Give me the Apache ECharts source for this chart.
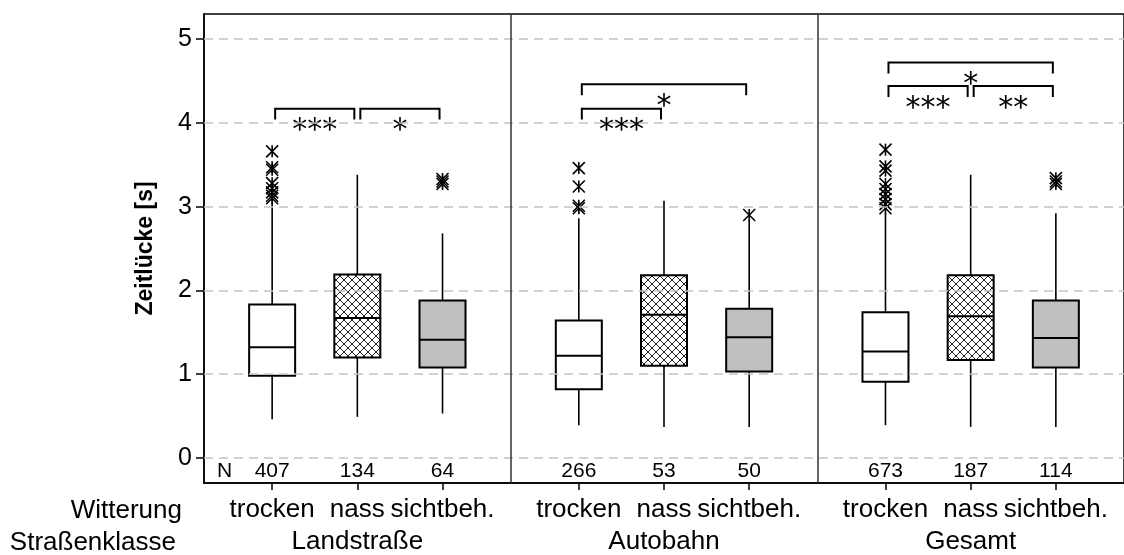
<!DOCTYPE html>
<html>
<head>
<meta charset="utf-8">
<script src="https://cdn.jsdelivr.net/npm/echarts@6/dist/echarts.min.js"></script>
<style>html,body{margin:0;padding:0;background:#fff;overflow:hidden}#c{width:1124px;height:555px}</style>
</head>
<body>
<div id="c"></div>
<script>
// ---- data ----
const positions = [0.8, 1.8, 2.8, 4.4, 5.4, 6.4, 8.0, 9.0, 10.0];
const witterung = ['trocken', 'nass', 'sichtbeh.', 'trocken', 'nass', 'sichtbeh.', 'trocken', 'nass', 'sichtbeh.'];
const strassenklasse = ['Landstraße', 'Autobahn', 'Gesamt'];
const groupCenters = [1.8, 5.4, 9.0];
const dividers = [3.6, 7.2];
const nCounts = [407, 134, 64, 266, 53, 50, 673, 187, 114];
const whiskerLow = [0.46, 0.49, 0.53, 0.39, 0.37, 0.37, 0.39, 0.37, 0.37];
const q1 = [0.98, 1.20, 1.08, 0.82, 1.10, 1.03, 0.91, 1.17, 1.08];
const median = [1.32, 1.67, 1.41, 1.22, 1.71, 1.44, 1.27, 1.69, 1.43];
const q3 = [1.83, 2.19, 1.88, 1.64, 2.18, 1.78, 1.74, 2.18, 1.88];
const whiskerHigh = [3.05, 3.38, 2.68, 2.86, 3.07, 2.84, 2.92, 3.38, 2.92];
const outliers = [
  [3.66, 3.47, 3.44, 3.28, 3.22, 3.17, 3.13, 3.10],
  [],
  [3.33, 3.30, 3.27],
  [3.46, 3.24, 3.01, 2.98],
  [],
  [2.90],
  [3.68, 3.48, 3.43, 3.27, 3.21, 3.15, 3.09, 3.03, 2.98],
  [],
  [3.34, 3.30, 3.27]
];
const yTicks = [0, 1, 2, 3, 4, 5];
// significance: [category A, category B, bracket level (s)]
const sigPairs = [[0, 1, 4.17], [1, 2, 4.17], [3, 4, 4.17], [3, 5, 4.46], [6, 7, 4.44], [7, 8, 4.44], [6, 8, 4.72]];
const sigLabels = ['***', '*', '***', '*', '***', '**', '*'];

// ---- build ----
const FONT = 'Liberation Sans, Arial, sans-serif';
const STARFONT = 'DejaVu Sans, sans-serif';
const hatch = document.createElement('canvas');
hatch.width = 8; hatch.height = 8;
(function () {
  const g = hatch.getContext('2d');
  g.fillStyle = '#fff'; g.fillRect(0, 0, 8, 8);
  g.strokeStyle = '#222'; g.lineWidth = 1;
  g.beginPath();
  g.moveTo(0, 0); g.lineTo(8, 8);
  g.moveTo(8, 0); g.lineTo(0, 8);
  g.stroke();
})();
const fills = ['#ffffff', { image: hatch, repeat: 'repeat' }, '#c0c0c0'];

const boxData = positions.map((p, i) => [p, whiskerLow[i], q1[i], median[i], q3[i], whiskerHigh[i], i]);
const outlierData = [];
outliers.forEach((arr, i) => arr.forEach(v => outlierData.push([positions[i], v])));
const nData = positions.map((p, i) => [p, i]);
const sigData = sigPairs.map((s, i) => [positions[s[0]], positions[s[1]], s[2], i]);

function labelFor(list, vals) {
  return function (v) {
    for (let i = 0; i < vals.length; i++) if (Math.abs(vals[i] - v) < 1e-6) return list[i];
    return '';
  };
}

const chart = echarts.init(document.getElementById('c'), null, { renderer: 'canvas' });
const option = {
  animation: false,
  backgroundColor: '#fff',
  grid: { left: 204, top: 14, width: 923, height: 470, show: true, borderColor: '#000', borderWidth: 1.5, backgroundColor: 'transparent' },
  xAxis: [{
    type: 'value', min: 0, max: 10.8, position: 'bottom',
    axisLine: { show: true, onZero: false, lineStyle: { color: '#000', width: 1.5 } },
    axisTick: { show: true, customValues: positions, length: 7, lineStyle: { color: '#000', width: 1.5 } },
    axisLabel: { customValues: positions, formatter: labelFor(witterung, positions), fontSize: 26, fontFamily: FONT, color: '#000', margin: 14 },
    splitLine: { show: false }
  }, {
    type: 'value', min: 0, max: 10.8, position: 'bottom', offset: 32,
    axisLine: { show: false }, axisTick: { show: false },
    axisLabel: { customValues: groupCenters, formatter: labelFor(strassenklasse, groupCenters), fontSize: 26, fontFamily: FONT, color: '#000', margin: 14 },
    splitLine: { show: false }
  }],
  yAxis: {
    type: 'value', min: -0.3, max: 5.3,
    name: 'Zeitlücke [s]', nameLocation: 'middle', nameGap: 47,
    nameTextStyle: { fontSize: 23, fontWeight: 'bold', fontFamily: FONT, color: '#000' },
    axisLine: { show: true, onZero: false, lineStyle: { color: '#000', width: 1.5 } },
    axisTick: { show: true, customValues: yTicks, length: 8, lineStyle: { color: '#000', width: 1.5 } },
    axisLabel: { customValues: yTicks, fontSize: 25, fontFamily: FONT, color: '#000', margin: 12 },
    splitLine: { show: false }
  },
  graphic: [
    { type: 'text', right: 1124 - 182, top: 498, style: { text: 'Witterung', font: '26px ' + FONT, fill: '#000' } },
    { type: 'text', right: 1124 - 176, top: 530, style: { text: 'Straßenklasse', font: '26px ' + FONT, fill: '#000' } },
    { type: 'text', left: 217, top: 461, style: { text: 'N', font: '21px ' + FONT, fill: '#000' } }
  ],
  series: [{
    type: 'line', data: [], z: 1, silent: true,
    markLine: {
      silent: true, symbol: 'none', label: { show: false },
      data: yTicks.map(v => ({ yAxis: v, lineStyle: { color: '#c4c4c4', type: [9, 6], width: 1.5 } }))
        .concat(dividers.map(v => ({ xAxis: v, lineStyle: { color: '#333', type: 'solid', width: 1.5 } })))
    }
  }, {
    type: 'custom', z: 3, data: boxData, clip: false,
    renderItem: function (params, api) {
      const x = api.value(0);
      const pLow = api.coord([x, api.value(1)]);
      const pQ1 = api.coord([x, api.value(2)]);
      const pMed = api.coord([x, api.value(3)]);
      const pQ3 = api.coord([x, api.value(4)]);
      const pHigh = api.coord([x, api.value(5)]);
      const w = api.size([0.54, 0])[0];
      const idx = api.value(6);
      const ls = { stroke: '#000', lineWidth: 1.6 };
      return {
        type: 'group', children: [
          { type: 'line', shape: { x1: pLow[0], y1: pLow[1], x2: pQ1[0], y2: pQ1[1] }, style: ls },
          { type: 'line', shape: { x1: pQ3[0], y1: pQ3[1], x2: pHigh[0], y2: pHigh[1] }, style: ls },
          { type: 'rect', shape: { x: pQ3[0] - w / 2, y: pQ3[1], width: w, height: pQ1[1] - pQ3[1] }, style: { fill: fills[idx % 3], stroke: '#000', lineWidth: 2 } },
          { type: 'line', shape: { x1: pMed[0] - w / 2, y1: pMed[1], x2: pMed[0] + w / 2, y2: pMed[1] }, style: { stroke: '#000', lineWidth: 2 } }
        ]
      };
    }
  }, {
    type: 'custom', z: 4, data: outlierData, clip: false,
    renderItem: function (params, api) {
      const p = api.coord([api.value(0), api.value(1)]);
      const r = 6;
      const st = { stroke: '#000', lineWidth: 1.6 };
      return {
        type: 'group', children: [
          { type: 'line', shape: { x1: p[0], y1: p[1] - r, x2: p[0], y2: p[1] + r }, style: st },
          { type: 'line', shape: { x1: p[0] - r, y1: p[1] - r, x2: p[0] + r, y2: p[1] + r }, style: st },
          { type: 'line', shape: { x1: p[0] - r, y1: p[1] + r, x2: p[0] + r, y2: p[1] - r }, style: st }
        ]
      };
    }
  }, {
    type: 'custom', z: 4, data: nData, clip: false,
    renderItem: function (params, api) {
      const p = api.coord([api.value(0), -0.3]);
      return { type: 'text', x: p[0], y: p[1] - 12, style: { text: String(nCounts[api.value(1)]), font: '21px ' + FONT, fill: '#000', align: 'center', verticalAlign: 'middle' } };
    }
  }, {
    type: 'custom', z: 4, data: sigData, clip: false,
    renderItem: function (params, api) {
      const inset = 3;
      const lvl = api.value(2);
      const a = api.coord([api.value(0), lvl]);
      const b = api.coord([api.value(1), lvl]);
      const legEnd = api.coord([api.value(0), lvl - 0.13])[1];
      const starY = api.coord([api.value(0), lvl - 0.19])[1];
      const xa = a[0] + inset, xb = b[0] - inset;
      const fs = 30;
      return {
        type: 'group', children: [
          { type: 'polyline', shape: { points: [[xa, legEnd], [xa, a[1]], [xb, a[1]], [xb, legEnd]] }, style: { stroke: '#000', lineWidth: 2, fill: 'none' } },
          { type: 'text', x: (xa + xb) / 2, y: starY + 0.23 * fs, style: { text: sigLabels[api.value(3)], font: fs + 'px ' + STARFONT, fill: '#000', align: 'center', verticalAlign: 'middle' } }
        ]
      };
    }
  }]
};
chart.setOption(option);
</script>
</body>
</html>
